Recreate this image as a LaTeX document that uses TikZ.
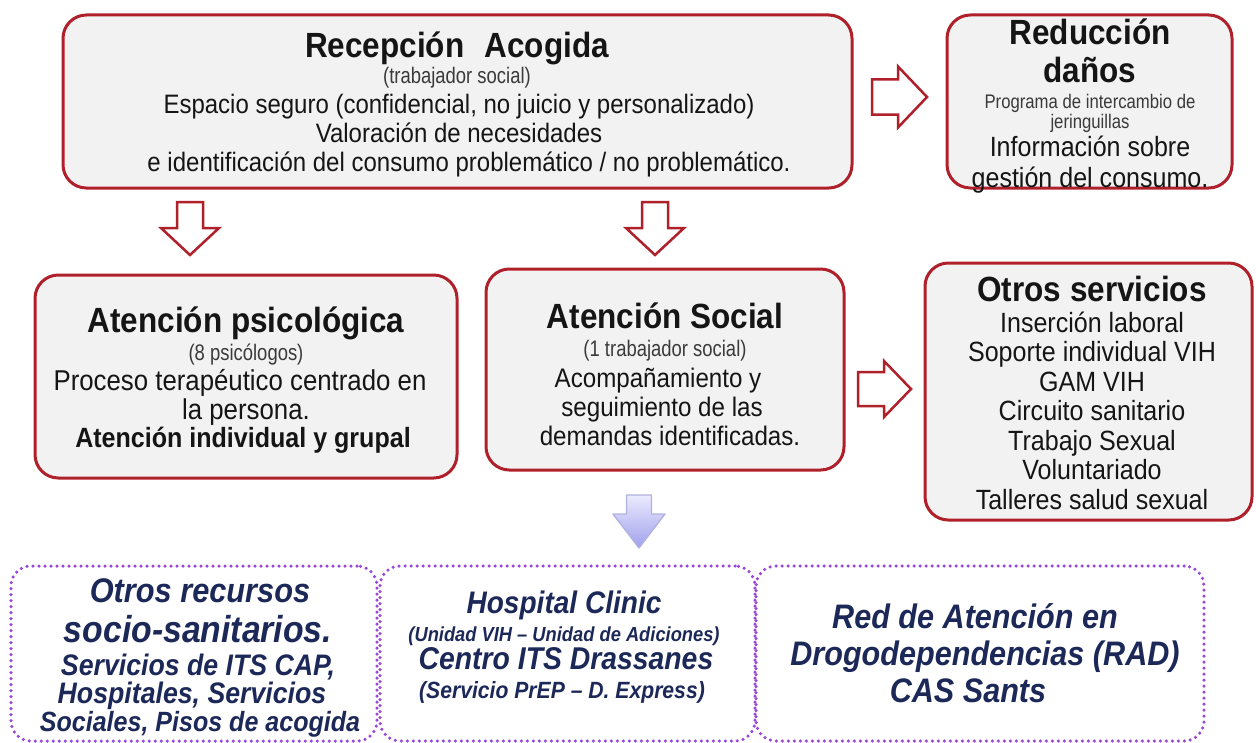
\documentclass[tikz,border=0pt]{standalone}
\usepackage{fontspec}
\setmainfont{Liberation Sans}[FakeStretch=0.9]
\newfontfamily\narrowfont[FakeStretch=0.82]{Liberation Sans}
\newfontfamily\semifont[FakeStretch=0.85]{Liberation Sans}
\definecolor{boxred}{HTML}{B0202A}
\definecolor{boxfill}{HTML}{F2F2F2}
\definecolor{navy}{HTML}{1C2857}
\definecolor{dotv}{HTML}{9A48D8}
\definecolor{txt}{HTML}{151515}
\definecolor{gtxt}{HTML}{3A3A3A}
\newcommand\mkbox[6]{\node[#6, minimum width={(#4-#2)*0.6pt}, minimum height={(#5-#3)*0.6pt}] (#1) at ({(#2+#4)/2},{(#3+#5)/2}) {};}
\newcommand\rarrow[7]{\draw[#7] (#1,{#3-#4}) -- ({#2-#6},{#3-#4}) -- ({#2-#6},{#3-#5}) -- (#2,#3) -- ({#2-#6},{#3+#5}) -- ({#2-#6},{#3+#4}) -- (#1,{#3+#4}) -- cycle;}
\newcommand\darrow[7]{\draw[#7] ({#3-#4},#1) -- ({#3-#4},{#2-#6}) -- ({#3-#5},{#2-#6}) -- (#3,#2) -- ({#3+#5},{#2-#6}) -- ({#3+#4},{#2-#6}) -- ({#3+#4},#1) -- cycle;}
\tikzset{
  redbox/.style={draw=boxred, line width=1.8pt, fill=boxfill, rounded corners=14pt, inner sep=0pt},
  dotbox/.style={draw=dotv, line width=2.1pt, dash pattern=on 0pt off 3.6pt, line cap=round, rounded corners=12pt, inner sep=0pt},
  blockarrow/.style={draw=boxred, line width=1.5pt, fill=white, line join=miter},
  purplearrow/.style={draw=black!40!blue!30!white, line width=0.8pt, top color=blue!8!white, bottom color=blue!35!white!85!gray, line join=round},
  ttl/.style={anchor=mid, yshift=-4.6pt, font=\bfseries\fontsize{21}{24}\selectfont, text=txt, inner sep=0pt},
  body/.style={anchor=mid, yshift=-3pt, font=\fontsize{16}{18}\selectfont, text=txt, inner sep=0pt},
  par/.style={anchor=mid, yshift=-2.6pt, font=\narrowfont\fontsize{13.5}{16}\selectfont, text=gtxt, inner sep=0pt},
  bi/.style={anchor=mid, yshift=-3.4pt, font=\bfseries\itshape, text=navy, inner sep=0pt},
}
\begin{document}
\begin{tikzpicture}[x=0.6pt,y=-0.6pt]
\useasboundingbox (0,0) rectangle (1256,742);
% boxes
\mkbox{rec}{63}{15}{852}{188}{redbox}
\mkbox{red}{947}{15}{1232}{188}{redbox}
\mkbox{psi}{35}{275}{457}{478}{redbox}
\mkbox{soc}{486}{269}{844}{470}{redbox}
\mkbox{otr}{925}{263}{1252}{520}{redbox}
\mkbox{b1}{11}{566}{377}{741}{dotbox}
\mkbox{b2}{380}{566}{755}{741}{dotbox}
\mkbox{b3}{756}{566}{1204}{741}{dotbox}
% arrows
\rarrow{872}{927}{97}{17.5}{30.5}{29}{blockarrow}
\rarrow{858}{911}{389}{17}{28}{27}{blockarrow}
\darrow{202}{255}{190}{13}{29}{27}{blockarrow}
\darrow{202}{255}{655}{13}{29}{27}{blockarrow}
\darrow{495}{548}{639}{12.5}{26}{34}{purplearrow}
% Recepcion
\node[ttl] (rec1) at (457,45) {Recepción\hspace{7pt} Acogida};
\node[par] (rec2) at (457,75) {(trabajador social)};
\node[body] (rec3) at (459,104) {Espacio seguro (confidencial, no juicio y personalizado)};
\node[body] (rec4) at (459,133) {Valoración de necesidades};
\node[body] (rec5) at (469,162) {e identificación del consumo problemático / no problemático.};
% Reduccion
\node[ttl] (red1) at (1090,32) {Reducción};
\node[ttl] (red2) at (1090,70) {daños};
\node[par, font=\semifont\fontsize{11.8}{13}\selectfont] (red3) at (1090,100) {Programa de intercambio de};
\node[par, font=\semifont\fontsize{11.8}{13}\selectfont] (red4) at (1090,120) {jeringuillas};
\node[body, font=\fontsize{16.7}{18}\selectfont] (red5) at (1090,147) {Información sobre};
\node[body, font=\fontsize{16.7}{18}\selectfont] (red6) at (1090,178) {gestión del consumo.};
% Psicologica
\node[ttl] (psi1) at (246,320) {Atención psicológica};
\node[par] (psi2) at (246,352) {(8 psicólogos)};
\node[body, font=\fontsize{17.2}{18}\selectfont] (psi3) at (240,381) {Proceso terapéutico centrado en};
\node[body, font=\fontsize{17.2}{18}\selectfont] (psi4) at (246,410) {la persona.};
\node[body, font=\bfseries\fontsize{16.7}{18}\selectfont] (psi5) at (243,438) {Atención individual y grupal};
% Social
\node[ttl] (soc1) at (665,316) {Atención Social};
\node[par] (soc2) at (665,348) {(1 trabajador social)};
\node[body, font=\fontsize{16.1}{18}\selectfont] (soc3) at (658,378) {Acompañamiento y};
\node[body, font=\fontsize{16.1}{18}\selectfont] (soc4) at (662,407) {seguimiento de las};
\node[body, font=\fontsize{16.1}{18}\selectfont] (soc5) at (670,436) {demandas identificadas.};
% Otros servicios
\node[ttl] (otr1) at (1092,289) {Otros servicios};
\foreach \t [count=\i] in {Inserción laboral, Soporte individual VIH, GAM VIH, Circuito sanitario, Trabajo Sexual, Voluntariado, Talleres salud sexual}{
  \node[body, font=\fontsize{16.7}{18}\selectfont] (otr\i) at (1092,{323+29.5*(\i-1)}) {\t};
}
% bottom boxes
\node[bi, font=\bfseries\itshape\fontsize{20.5}{22}\selectfont] (b1a) at (200,592) {Otros recursos};
\node[bi, font=\bfseries\itshape\fontsize{22.5}{24}\selectfont] (b1b) at (198,632) {socio-sanitarios.};
\node[bi, font=\bfseries\itshape\fontsize{17.8}{20}\selectfont] (b1c) at (198,665) {Servicios de ITS CAP,};
\node[bi, font=\bfseries\itshape\fontsize{17.8}{20}\selectfont] (b1d) at (192,693) {Hospitales, Servicios};
\node[bi, font=\bfseries\itshape\fontsize{16.7}{20}\selectfont] (b1e) at (200,721) {Sociales, Pisos de acogida};
\node[bi, font=\bfseries\itshape\fontsize{18.7}{20}\selectfont] (b2a) at (564,603) {Hospital Clinic};
\node[bi, font=\bfseries\itshape\fontsize{12.2}{14}\selectfont] (b2b) at (564,631) {(Unidad VIH -- Unidad de Adiciones)};
\node[bi, font=\bfseries\itshape\fontsize{18.9}{20}\selectfont] (b2c) at (566,659) {Centro ITS Drassanes};
\node[bi, font=\bfseries\itshape\fontsize{14.1}{16}\selectfont] (b2d) at (562,688) {(Servicio PrEP -- D. Express)};
\node[bi, font=\bfseries\itshape\fontsize{20.4}{22}\selectfont] (b3a) at (975,618) {Red de Atención en};
\node[bi, font=\bfseries\itshape\fontsize{20.4}{22}\selectfont] (b3b) at (985,655) {Drogodependencias (RAD)};
\node[bi, font=\bfseries\itshape\fontsize{20.4}{22}\selectfont] (b3c) at (968,692) {CAS Sants};
\end{tikzpicture}
\end{document}
